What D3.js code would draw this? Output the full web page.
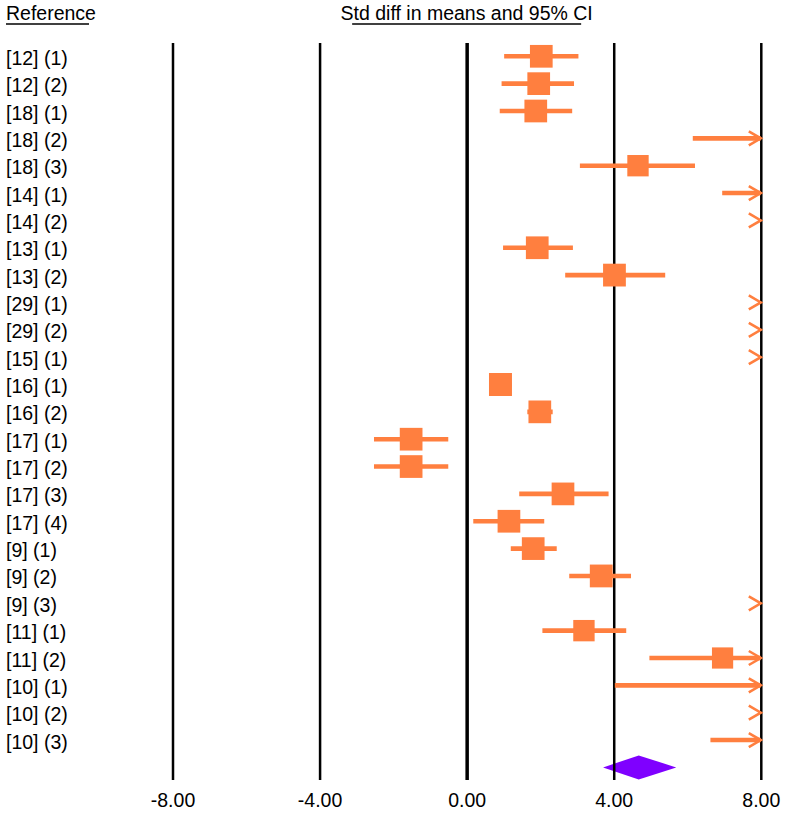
<!DOCTYPE html>
<html>
<head>
<meta charset="utf-8">
<script src="https://cdn.jsdelivr.net/npm/d3@7"></script>
<style>
    body { margin: 0; background: #fff; }
    svg text { font-family: "Liberation Sans", Arial, sans-serif; font-size: 19.5px; fill: #000; }
</style>
</head>
<body>
<div class="visHolder"></div>
<script>
// study labels (top to bottom)
var studies = ['[12] (1)', '[12] (2)', '[18] (1)', '[18] (2)', '[18] (3)', '[14] (1)', '[14] (2)',
    '[13] (1)', '[13] (2)', '[29] (1)', '[29] (2)', '[15] (1)', '[16] (1)', '[16] (2)',
    '[17] (1)', '[17] (2)', '[17] (3)', '[17] (4)', '[9] (1)', '[9] (2)', '[9] (3)',
    '[11] (1)', '[11] (2)', '[10] (1)', '[10] (2)', '[10] (3)'];

// std diff in means, lower and upper 95% limits (values past 8 are off the plot)
var effect = [2.03, 1.96, 1.88, 9.6, 4.66, 10.2, 11.0, 1.92, 4.02, 11.5, 11.2, 11.4, 0.92, 1.99,
    -1.51, -1.51, 2.62, 1.15, 1.81, 3.66, 11.3, 3.19, 6.96, 8.6, 11.2, 9.1];
var lower = [1.02, 0.95, 0.90, 6.15, 3.08, 6.95, 8.6, 0.99, 2.68, 8.9, 8.8, 8.9, 0.62, 1.65,
    -2.52, -2.52, 1.43, 0.18, 1.20, 2.79, 8.8, 2.06, 4.97, 4.03, 8.8, 6.63];
var upper = [3.04, 2.92, 2.87, 13.1, 6.21, 13.4, 13.4, 2.89, 5.40, 14.1, 13.6, 13.9, 1.22, 2.34,
    -0.50, -0.50, 3.86, 2.11, 2.45, 4.47, 13.8, 4.34, 8.95, 13.2, 13.6, 11.6];
// relative weight (%)
var weight = [3.95, 3.95, 3.95, 3.6, 3.5, 3.5, 3.3, 3.95, 3.98, 3.3, 3.3, 3.3, 4.05, 3.95,
    3.95, 3.95, 3.95, 3.95, 3.95, 3.98, 3.3, 3.5, 3.45, 3.2, 3.3, 3.5];

// summary estimate
var summary = { effect: 4.68, lower: 3.71, upper: 5.70 };

var tickValues = [-8, -4, 0, 4, 8];

var width = 785,
    height = 813;

var svg = d3
    .select('.visHolder')
    .append('svg')
    .attr('width', width)
    .attr('height', height);

var xScale = d3.scaleLinear().domain([-8, 8]).range([172.5, 760.8]);

var yScale = d3
    .scalePoint()
    .domain(studies.concat(['summary']))
    .range([56.3, 767.4]);

var sizeScale = d3.scaleSqrt().domain([0, 3.95]).range([0, 22.7]);

var orange = '#ff7f3f';

// header
svg.append('text').attr('x', 6).attr('y', 20).text('Reference');
svg.append('line')
    .attr('x1', 6).attr('x2', 89)
    .attr('y1', 24).attr('y2', 24)
    .attr('stroke', '#000').attr('stroke-width', 1.3);

svg.append('text')
    .attr('x', xScale(0))
    .attr('y', 20)
    .attr('text-anchor', 'middle')
    .text('Std diff in means and 95% CI');
svg.append('line')
    .attr('x1', xScale(0) - 114.5).attr('x2', xScale(0) + 114.5)
    .attr('y1', 24).attr('y2', 24)
    .attr('stroke', '#000').attr('stroke-width', 1.3);

// row labels
svg.append('g')
    .selectAll('text')
    .data(studies)
    .enter()
    .append('text')
    .attr('x', 6)
    .attr('y', function (d) {
        return yScale(d) + 8.5;
    })
    .text(function (d) {
        return d;
    });

// summary diamond (under the grid lines)
svg.append('path')
    .attr('d', 'M' + xScale(summary.lower) + ',' + yScale('summary') +
        'L' + xScale(summary.effect) + ',' + (yScale('summary') - 12) +
        'L' + xScale(summary.upper) + ',' + yScale('summary') +
        'L' + xScale(summary.effect) + ',' + (yScale('summary') + 12) + 'Z')
    .attr('fill', '#7f00ff');

// axis with long ticks acting as vertical lines
var axisY = 780;
var fmt = d3.format('.2f');
var xAxis = d3
    .axisBottom(xScale)
    .tickValues(tickValues)
    .tickFormat(function (d) {
        return fmt(d).replace('\u2212', '-');
    })
    .tickSizeInner(-(axisY - 43))
    .tickSizeOuter(0)
    .tickPadding(13);

var axisG = svg
    .append('g')
    .attr('transform', 'translate(0,' + axisY + ')')
    .call(xAxis);

axisG.select('.domain').remove();
axisG.selectAll('.tick line')
    .attr('stroke', '#000')
    .attr('stroke-width', function (d) {
        return d === 0 ? 3.5 : 2.5;
    });
axisG.selectAll('.tick text')
    .attr('font-family', '"Liberation Sans", Arial, sans-serif')
    .attr('font-size', 19)
    .attr('fill', '#000');

// study marks
var rows = studies.map(function (s, i) {
    return { label: s, effect: effect[i], lower: lower[i], upper: upper[i], weight: weight[i] };
});

svg.append('clipPath')
    .attr('id', 'plot-clip')
    .append('rect')
    .attr('x', xScale(-8))
    .attr('y', 0)
    .attr('width', xScale(8) - xScale(-8))
    .attr('height', height);

var marks = svg.append('g').attr('clip-path', 'url(#plot-clip)');

// CI lines
marks.selectAll('.ci')
    .data(rows.filter(function (d) { return d.lower < 8; }))
    .enter()
    .append('line')
    .attr('class', 'ci')
    .attr('x1', function (d) { return xScale(Math.max(d.lower, -8)); })
    .attr('x2', function (d) { return xScale(Math.min(d.upper, 8)); })
    .attr('y1', function (d) { return yScale(d.label); })
    .attr('y2', function (d) { return yScale(d.label); })
    .attr('stroke', orange)
    .attr('stroke-width', 4.6);

// weight squares
marks.selectAll('.box')
    .data(rows.filter(function (d) { return d.effect < 8; }))
    .enter()
    .append('rect')
    .attr('class', 'box')
    .attr('x', function (d) { return xScale(d.effect) - sizeScale(d.weight) / 2; })
    .attr('y', function (d) { return yScale(d.label) - sizeScale(d.weight) / 2; })
    .attr('width', function (d) { return sizeScale(d.weight); })
    .attr('height', function (d) { return sizeScale(d.weight); })
    .attr('fill', orange);

// arrows where the interval runs past the axis
svg.selectAll('.arrow')
    .data(rows.filter(function (d) { return d.upper > 8; }))
    .enter()
    .append('path')
    .attr('class', 'arrow')
    .attr('d', function (d) {
        var x = xScale(8),
            y = yScale(d.label);
        return 'M' + (x - 12) + ',' + (y - 7) + 'L' + x + ',' + y + 'L' + (x - 12) + ',' + (y + 7);
    })
    .attr('fill', 'none')
    .attr('stroke', orange)
    .attr('stroke-width', 2.6);
</script>
</body>
</html>
